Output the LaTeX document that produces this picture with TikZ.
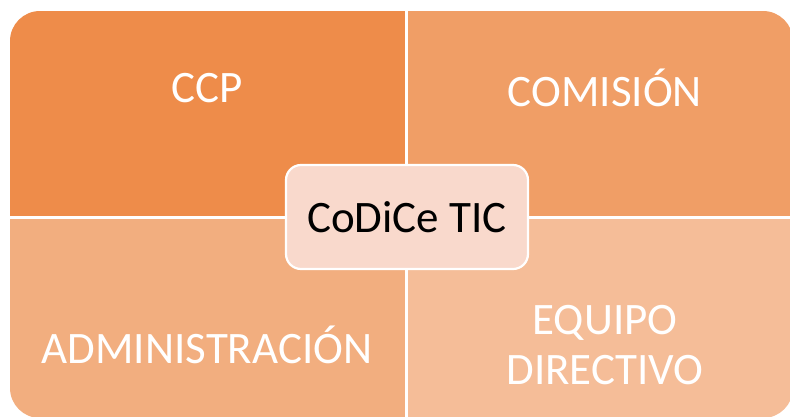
\documentclass[tikz,border=0pt]{standalone}
\usepackage{fontspec}
\setmainfont{Carlito}
\definecolor{cTL}{RGB}{238,140,74}
\definecolor{cTR}{RGB}{240,158,102}
\definecolor{cBL}{RGB}{242,174,127}
\definecolor{cBR}{RGB}{245,189,152}
\definecolor{cCen}{RGB}{249,217,204}
\begin{document}
\begin{tikzpicture}[x=1pt,y=-1pt,
  lbl/.style={text=white,font=\fontsize{45}{50}\selectfont,align=center,inner sep=0pt}]
\useasboundingbox (0,0) rectangle (790,416);
\begin{scope}
\clip[rounded corners=30] (10,11) rectangle (793,418);
\fill[cTL] (0,0) rectangle (405,216);
\fill[cTR] (408,0) rectangle (800,216);
\fill[cBL] (0,219) rectangle (405,420);
\fill[cBR] (408,219) rectangle (800,420);
\end{scope}
% labels
\node[lbl] (ccp) at (207,88) {CCP};
\node[lbl] (com) at (605,88) {COMISIÓN};
\node[lbl] (adm) at (207,345) {ADMINISTRACIÓN};
\node[lbl] (eq) at (605,345) {EQUIPO\\DIRECTIVO};
% center
\node[draw=white,line width=2.2pt,fill=cCen,rounded corners=15,minimum width=242,minimum height=104,inner sep=0pt,font=\fontsize{45}{50}\selectfont] (c) at (407,217) {CoDiCe TIC};
\end{tikzpicture}
\end{document}
